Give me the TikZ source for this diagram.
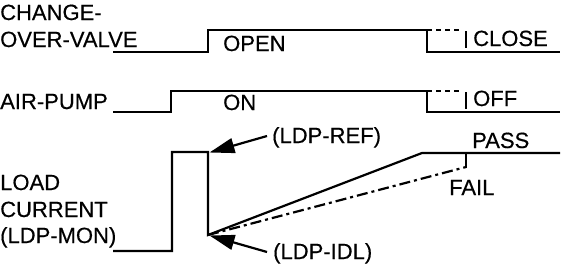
\documentclass[tikz,border=0pt]{standalone}
\usepackage{fontspec}
\setmainfont{Liberation Sans}[BoldFont=Liberation Sans,BoldFeatures={FakeBold=0.4}]
\usetikzlibrary{arrows.meta}
\begin{document}
\begin{tikzpicture}[x=1pt,y=-1pt,
  sig/.style={line width=2.2pt,line join=miter},
  lbl/.style={inner sep=0pt,anchor=base west,font=\fontsize{22}{26}\selectfont\bfseries},
  dsh/.style={line width=2.2pt,dash pattern=on 5pt off 4pt},
  dashdot/.style={line width=2.2pt,dash pattern=on 11pt off 4pt on 3pt off 4pt},
  ptr/.style={line width=2.2pt,-{Triangle[length=25pt,width=15pt]}}]
\useasboundingbox (0,0) rectangle (566,268);
% labels
\node[lbl] (cv1) at (0,20) {CHANGE-};
\node[lbl] (cv2) at (0,47) {OVER-VALVE};
\node[lbl] (ap) at (0,109) {AIR-PUMP};
\node[lbl] (lc1) at (0,190) {LOAD};
\node[lbl] (lc2) at (0,217) {CURRENT};
\node[lbl] (lc3) at (0,243) {(LDP-MON)};
\node[lbl] (open) at (223,51) {OPEN};
\node[lbl] (close) at (473,46) {CLOSE};
\node[lbl] (on) at (223,110) {ON};
\node[lbl] (off) at (473,106) {OFF};
\node[lbl] (ref) at (272,143) {(LDP-REF)};
\node[lbl] (idl) at (273,259) {(LDP-IDL)};
\node[lbl] (pass) at (472,148) {PASS};
\node[lbl] (fail) at (449,195) {FAIL};
% change-over valve
\draw[sig] (113,52) -- (208,52) -- (208,30) -- (427,30) -- (427,52) -- (560,52);
\draw[dsh] (427,30) -- (462,30);
\draw[sig] (466,31) -- (466,48);
% air pump
\draw[sig] (113,112) -- (171,112) -- (171,91) -- (427,91) -- (427,112) -- (560,112);
\draw[dsh] (427,91) -- (462,91);
\draw[sig] (466,92) -- (466,109);
% load current
\coordinate (peak) at (208,152);
\coordinate (low) at (208,235);
\draw[sig] (113,251) -- (172,251) -- (172,152) -- (peak) -- (low) -- (422,153) -- (560,153);
\draw[dashdot] (low) -- (466,167);
\draw[sig] (466,168) -- (466,153);
% pointers
\coordinate (refs) at (267,136);
\coordinate (idls) at (267,252);
\draw[ptr] (refs) -- (209.5,152.5);
\draw[ptr] (idls) -- (209.5,235.5);
\end{tikzpicture}
\end{document}
